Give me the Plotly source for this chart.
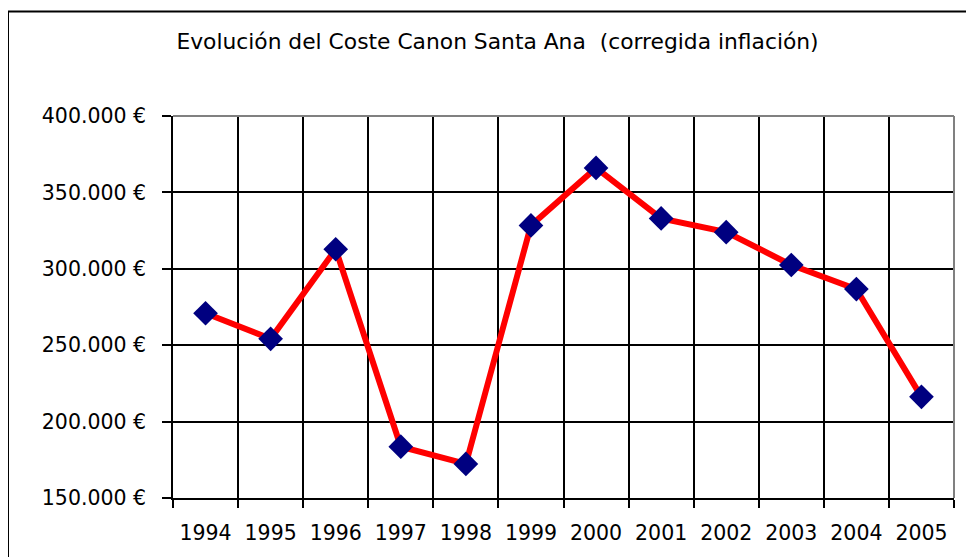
import plotly.graph_objects as go

years = ["1994", "1995", "1996", "1997", "1998", "1999", "2000", "2001", "2002", "2003", "2004", "2005"]
coste = [270900, 254200, 312800, 183600, 172300, 328400, 366000, 333000, 324000, 302500, 286700, 216200]
y_tickvals = [150000, 200000, 250000, 300000, 350000, 400000]
y_ticktext = ["150.000 €", "200.000 €", "250.000 €", "300.000 €", "350.000 €", "400.000 €"]
title_text = "Evolución del Coste Canon Santa Ana  (corregida inflación)"

# page has an 8px body margin: figure drawn from (8, 8)
OFF = 8
W, H = 974 - OFF, 557 - OFF
ml, mr, mt, mb = 173 - OFF, 20, 116 - OFF, 57
pw = W - ml - mr
ph = H - mt - mb

fig = go.Figure()
fig.add_trace(go.Scatter(
    x=years, y=coste, mode="lines+markers",
    line=dict(color="#FF0000", width=6),
    marker=dict(symbol="diamond", size=19, color="#000080"),
    showlegend=False, cliponaxis=False,
))

font = dict(family="DejaVu Sans, sans-serif", size=20.5, color="black")

fig.update_layout(
    width=W, height=H,
    margin=dict(l=ml, r=mr, t=mt, b=mb, pad=0),
    paper_bgcolor="white", plot_bgcolor="white",
    font=font,
    title=dict(text=title_text, x=(497.5 - OFF) / W, xanchor="center",
               y=1 - (41 - OFF) / H, yanchor="middle", yref="container",
               font=dict(family="DejaVu Sans, sans-serif", size=21.8, color="black")),
    xaxis=dict(type="category", tickson="boundaries", showgrid=True,
               gridcolor="black", gridwidth=1.5,
               ticks="outside", ticklen=8, tickwidth=1.5, tickcolor="black",
               showline=True, linecolor="black", linewidth=1.5,
               range=[-0.5, 11.5], tickfont=font, ticklabelstandoff=16),
    yaxis=dict(range=[150000, 400000], tickvals=y_tickvals, ticktext=y_ticktext,
               showgrid=True, gridcolor="black", gridwidth=1.5,
               ticks="outside", ticklen=9, tickwidth=1.5, tickcolor="black",
               showline=True, linecolor="black", linewidth=1.5,
               zeroline=False, tickfont=font, ticklabelstandoff=12),
    shapes=[
        dict(type="line", xref="paper", yref="paper", x0=0, x1=1, y0=1, y1=1,
             line=dict(color="#808080", width=2), layer="above"),
        dict(type="line", xref="paper", yref="paper", x0=1, x1=1, y0=0, y1=1,
             line=dict(color="#808080", width=2), layer="above"),
        dict(type="rect", xref="paper", yref="paper",
             x0=(8 - OFF - ml) / pw, x1=(W + 20 - ml) / pw,
             y0=-(mb + 20) / ph, y1=(H - mb - (11 - OFF)) / ph,
             line=dict(color="black", width=2), layer="below"),
    ],
)

fig.write_html("out.html")
